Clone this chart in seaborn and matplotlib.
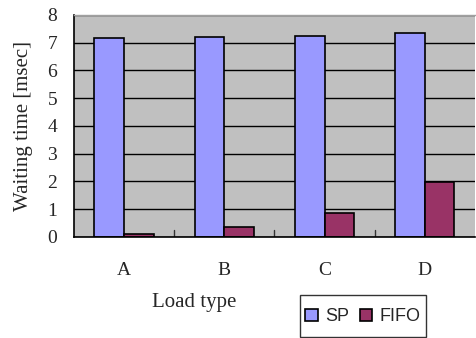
import matplotlib
matplotlib.use("Agg")
import matplotlib.pyplot as plt
import seaborn as sns
import pandas as pd
from matplotlib.patches import Patch, Rectangle
from matplotlib.legend_handler import HandlerPatch

categories = ["A", "B", "C", "D"]
sp_values = [7.16, 7.22, 7.24, 7.36]
fifo_values = [0.12, 0.36, 0.86, 1.98]
series_names = ["SP", "FIFO"]
y_ticks = [0, 1, 2, 3, 4, 5, 6, 7, 8]

df = pd.DataFrame({
    "Load type": categories * 2,
    "value": sp_values + fifo_values,
    "series": [series_names[0]] * 4 + [series_names[1]] * 4,
})

sns.set_theme(style="white")
plt.rcParams["font.family"] = ["Liberation Serif", "DejaVu Serif"]

colors = {"SP": "#9999FF", "FIFO": "#993366"}

fig = plt.figure(figsize=(4.76, 3.38), dpi=100)
ax = fig.add_axes([0.155, 0.299, 0.843, 0.657])
ax.set_facecolor("#C0C0C0")
ax.set_axisbelow(True)

sns.barplot(data=df, x="Load type", y="value", hue="series", palette=colors,
            width=0.59, gap=0, edgecolor="black", linewidth=1.2, ax=ax,
            legend=False, saturation=1)

ax.set_ylim(0, 8)
ax.set_xlim(-0.5, 3.5)
ax.set_yticks(y_ticks)
ax.yaxis.grid(True, color="black", linewidth=1)
ax.xaxis.grid(False)
ax.tick_params(axis="y", labelsize=14, length=0, left=False, pad=12)
ax.tick_params(axis="x", labelsize=14, length=0, pad=18)
ax.set_xticks(range(4))
ax.set_xticklabels(categories)
for b in [0.5, 1.5, 2.5]:
    ax.plot([b, b], [0, 0.25], color="#333333", linewidth=1)

for s in ["left", "bottom"]:
    ax.spines[s].set_color("black")
    ax.spines[s].set_linewidth(1.2)
ax.spines["top"].set_color("#A0A0A0")
ax.spines["top"].set_linewidth(1)
ax.spines["right"].set_visible(False)

ax.set_ylabel("Waiting time [msec]", fontsize=15, labelpad=10)
ax.set_xlabel("Load type", fontsize=15, labelpad=10, x=0.30)


def square(legend, orig_handle, xdescent, ydescent, width, height, fontsize):
    side = 0.68 * fontsize
    return Rectangle((-xdescent, 0), side, side)


handles = [Patch(facecolor=colors[n], edgecolor="black", linewidth=1.2, label=n)
           for n in series_names]
leg = fig.legend(handles=handles, loc="lower left", bbox_to_anchor=(300/476, 1/338),
                 ncol=2, frameon=True, fancybox=False, edgecolor="black",
                 prop={"family": "Liberation Sans", "size": 13},
                 handlelength=0.7, handleheight=2.3, handletextpad=0.4,
                 columnspacing=0.6, borderpad=0.3, borderaxespad=0,
                 handler_map={Patch: HandlerPatch(patch_func=square)})
leg.get_frame().set_linewidth(1)

fig.savefig("out.png", dpi=100)
